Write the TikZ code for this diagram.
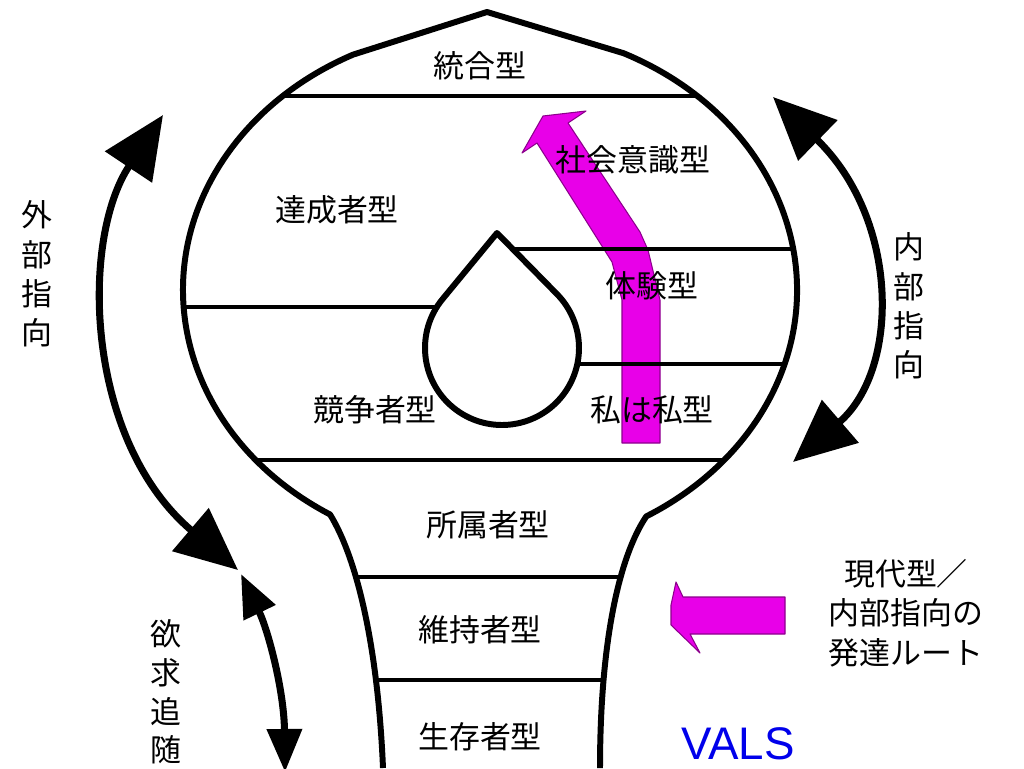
\documentclass[tikz,border=0pt]{standalone}
\usepackage{fontspec}
\newfontfamily\jp{Noto Sans CJK JP}
\newfontfamily\lat{Liberation Sans}
\usetikzlibrary{calc,arrows.meta}
\definecolor{valsmagenta}{RGB}{232,0,232}
\definecolor{valspurple}{RGB}{140,0,140}
\definecolor{valsblue}{RGB}{0,0,235}
\def\bulbpath{(383,768) .. controls (378,650) and (358,560) .. ($(bulbC)+(121.4:307 and 263)$) arc[start angle=121.4, end angle=243.5, x radius=307, y radius=263] -- (487,12) -- ($(bulbC)+(295.8:307 and 263)$) arc[start angle=295.8, end angle=419.4, x radius=307, y radius=263] .. controls (617,560) and (600,650) .. (600,768)}
\tikzset{
	typelabel/.style={font=\jp\fontsize{17.6}{22}\selectfont, inner sep=0pt},
	sidelabel/.style={typelabel, align=center, font=\jp\fontsize{17.6}{22.4}\selectfont},
	outline/.style={line width=3.4pt, line join=round},
	layer/.style={line width=1.8pt},
	bigtips/.style={line width=4pt, {Triangle[length=1.25cm,width=1.1cm]}-{Triangle[length=1.25cm,width=1.1cm]}},
	smalltips/.style={line width=4pt, {Triangle[length=0.86cm,width=0.68cm]}-{Triangle[length=0.86cm,width=0.68cm]}},
	route/.style={fill=valsmagenta, draw=valspurple, line width=0.6pt, line join=round}
}
\begin{document}
\begin{tikzpicture}[x=0.02cm, y=-0.02cm]
			%%%%% START %%%%%
			
			\fill[white] (0,0) rectangle (1024,768);
			\useasboundingbox (0,0) rectangle (1024,768);
			
			\coordinate (bulbC) at (490,290);
			\coordinate (tearC) at (502,348);
			
			% development route
			\draw[route] (622,443) -- (622,300) -- (612,262) -- (537,143) -- (522,153) -- (543,116) -- (586,111) -- (568,123) -- (640,232) -- (648,250) -- (660,300) -- (660,443) -- cycle;
			
			% layers
			\begin{scope}
				\clip \bulbpath -- cycle;
				\draw[layer] (150,96) -- (850,96);
				\draw[layer] (500,249) -- (850,249);
				\draw[layer] (150,307) -- (480,307);
				\draw[layer] (520,364) -- (850,364);
				\draw[layer] (150,460) -- (850,460);
				\draw[layer] (150,577) -- (850,577);
				\draw[layer] (150,680) -- (850,680);
			\end{scope}
			
			\draw[outline, fill=white] (497,233) -- ($(tearC)+(219.5:77)$) arc[start angle=219.5, end angle=-44.5, radius=77] -- cycle;
			\draw[outline] \bulbpath;
			
			\node[typelabel] (integrated) at (480,66) {統合型};
			\node[typelabel] (societal) at (633,160) {社会意識型};
			\node[typelabel] (achiever) at (337,210) {達成者型};
			\node[typelabel] (experiential) at (652,286) {体験型};
			\node[typelabel] (emulator) at (375,410) {競争者型};
			\node[typelabel] (iamme) at (652,410) {私は私型};
			\node[typelabel] (belonger) at (488,525) {所属者型};
			\node[typelabel] (sustainer) at (480,630) {維持者型};
			\node[typelabel] (survivor) at (480,737) {生存者型};
			
			% directions
			\coordinate (extTop) at (163,115);
			\coordinate (extBot) at (238,570);
			\coordinate (needTop) at (241,574);
			\coordinate (needBot) at (285,772);
			\coordinate (intTop) at (773,97);
			\coordinate (intBot) at (793,462);
			\draw[bigtips] (extTop) .. controls (80,240) and (85,440) .. (extBot);
			\draw[smalltips] (needTop) .. controls (268,630) and (284,690) .. (needBot);
			\draw[bigtips] (intTop) .. controls (900,220) and (900,370) .. (intBot);
			
			\node[sidelabel] (outer) at (37,274) {外\\部\\指\\向};
			\node[sidelabel] (inner) at (909,306) {内\\部\\指\\向};
			\node[sidelabel, font=\jp\fontsize{17.6}{22}\selectfont] (need) at (166,692) {欲\\求\\追\\随};
			
			% legend
			\draw[route] (785,597) -- (683,597) -- (676,582) -- (671,605) -- (671,625) -- (700,653) -- (690,634) -- (785,634) -- cycle;
			\node[sidelabel] (legend) at (906,613) {現代型／\\内部指向の\\発達ルート};
			\node[font=\lat\fontsize{26}{30}\selectfont, text=valsblue, inner sep=0pt, anchor=base] (vals) at (738,759) {VALS};
			
			%%%%% END %%%%%
		\end{tikzpicture}
\end{document}
